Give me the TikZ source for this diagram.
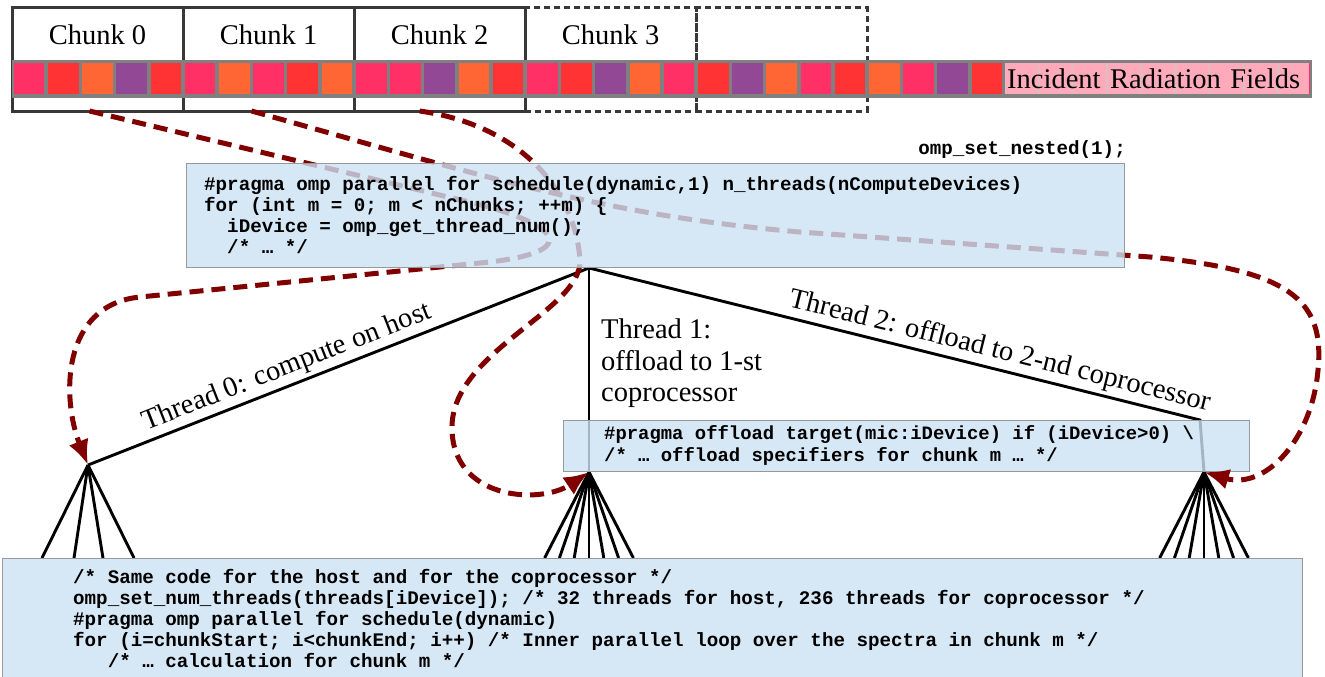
\documentclass[tikz,border=0pt]{standalone}
\usepackage{fontspec}
\usepackage{tikz}
\usepackage{xcolor}
\usetikzlibrary{arrows.meta,calc,positioning}
\setmainfont{Liberation Serif}
\newfontfamily\codefont{Liberation Mono}

\definecolor{cpink}{RGB}{255,48,102}
\definecolor{cred}{RGB}{255,51,51}
\definecolor{corange}{RGB}{255,102,51}
\definecolor{cpurple}{RGB}{146,72,148}
\definecolor{codebg}{RGB}{204,226,243}
\definecolor{flowred}{RGB}{128,0,0}
\definecolor{irfbg}{RGB}{255,192,203}

\begin{document}
\begin{tikzpicture}[x=1pt, y=-1pt,
    chunkbox/.style={draw=black!78, line width=3pt, minimum width=171.05pt, minimum height=103pt, inner sep=0pt, outer sep=0pt},
    freebox/.style={chunkbox, dash pattern=on 6pt off 4pt},
    lbl/.style={font=\fontsize{28.5}{31.5}\selectfont},
    cell/.style={fill=#1, minimum size=30.6pt, inner sep=0pt},
    codebox/.style={draw=black!40, line width=0.8pt, fill=codebg, fill opacity=0.8, anchor=north west, inner sep=0pt, outer sep=0pt},
    code/.style={font=\codefont\bfseries\fontsize{19.2}{21}\selectfont, align=left, inner sep=0pt, anchor=west},
    thread/.style={line width=2.9pt},
    flow/.style={draw=flowred, line width=5pt, dash pattern=on 14pt off 8pt, -{Latex[length=25pt,width=21pt]}}
  ]
  \useasboundingbox (0,0) rectangle (1325,677);

  % chunks of the field array
  \foreach \i in {0,1,2}
    \node[chunkbox] (c\i) at ({12+171.05*(\i+0.5)},59.5) {};
  \foreach \i in {3,4}
    \node[freebox] (c\i) at ({12+171.05*(\i+0.5)},59.5) {};
  \foreach \i in {0,...,3}
    \node[lbl] (t\i) at ([yshift=-26.5pt]c\i.north) {Chunk \i};

  \node[fill=black!50, minimum width=1300pt, minimum height=38pt, inner sep=0pt, anchor=north west] (strip) at (12,59.5) {};
  \foreach \col [count=\k from 0] in {cpink,cred,corange,cpurple,cred,cpink,corange,cpink,cred,corange,cpink,cpink,cpurple,corange,cred,cpink,cred,cpurple,corange,cpink,cred,cpurple,corange,cpink,cred,corange,cpink,cpurple,cred,cpink,cpink,cpink,cpink,cpink,cpink,cpink,cpink,cpink}
    \node[cell=\col] (sq\k) at ({12+34.21*(\k+0.5)},78.5) {};
  \node[lbl, fill=irfbg, fill opacity=0.85, text opacity=1, anchor=west, align=left, minimum height=30pt, text width=300pt, inner xsep=2pt, inner ysep=0pt] (irf) at (1005,78.5) {Incident Radiation Fields};

  % threads of the outer loop
  \coordinate (split) at (589,268);
  \coordinate (host) at (88,465);
  \coordinate (mic1) at (589,472);
  \coordinate (bend2) at (1200,420);
  \coordinate (mic2) at (1204,472);

  \draw[thread] (host) -- node[lbl, sloped, above, pos=0.41] (lbl0) {Thread 0: compute on host} (split);
  \draw[thread] (split) -- (mic1);
  \draw[thread] (split) -- node[lbl, sloped, above, pos=0.665] (lbl2) {Thread 2: offload to 2-nd coprocessor} (bend2) -- (mic2);
  \node[lbl, align=left, anchor=north west, inner sep=0pt] (lbl1) at (601,319) {Thread 1:\\offload to 1-st\\coprocessor};

  % inner threads
  \foreach \x [count=\k] in {42,74,103,134} {
    \coordinate (h\k) at (\x,558);
    \draw[thread] (host) -- (h\k);
  }
  \foreach \d [count=\k] in {-3,...,3} {
    \coordinate (m\k) at ({589+14.8*\d},558);
    \coordinate (n\k) at ({1204+14.8*\d},558);
    \draw[thread] (mic1) -- (m\k);
    \draw[thread] (mic2) -- (n\k);
  }

  \node[codebox, minimum width=686pt, minimum height=51pt] (offl) at (563,420) {};
  \node[code, font=\codefont\bfseries\fontsize{18.9}{22}\selectfont] (offltxt) at ([xshift=41pt]offl.west) {\#pragma offload target(mic:iDevice) if (iDevice>0) \textbackslash\\/* … offload specifiers for chunk m … */};

  % chunks handed to the devices
  \coordinate (f0) at ([xshift=-8pt]c0.south);
  \coordinate (f1) at ([xshift=-17pt]c1.south);
  \coordinate (f2) at ([xshift=-20pt]c2.south);
  \draw[flow] (f0) -- (448,197) .. controls (555,220) and (590,250) .. (490,262) -- (140,297) .. controls (60,305) and (62,400) .. (host);
  \draw[flow] (f1) .. controls (480,175) and (600,215) .. (800,232) -- (1150,257) .. controls (1290,270) and (1325,300) .. (1318,370) .. controls (1312,440) and (1265,490) .. (mic2);
  \draw[flow] (f2) .. controls (520,125) and (575,190) .. (580,260) .. controls (582,310) and (455,350) .. (452,425) .. controls (450,500) and (540,505) .. (mic1);

  \node[codebox, minimum width=938pt, minimum height=104pt] (outer) at (186,163) {};
  \node[code] (outertxt) at ([xshift=18pt]outer.west) {\#pragma omp parallel for schedule(dynamic,1) n\_threads(nComputeDevices)\\for (int m = 0; m < nChunks; ++m) \{\\\phantom{xx}iDevice = omp\_get\_thread\_num();\\\phantom{xx}/* … */};
  \node[code, anchor=east] (nest) at (1126,150) {omp\_set\_nested(1);};

  \node[codebox, minimum width=1300pt, minimum height=121pt] (inner) at (2,558) {};
  \node[code] (innertxt) at ([xshift=71pt]inner.west) {/* Same code for the host and for the coprocessor */\\omp\_set\_num\_threads(threads[iDevice]); /* 32 threads for host, 236 threads for coprocessor */\\\#pragma omp parallel for schedule(dynamic)\\for (i=chunkStart; i<chunkEnd; i++) /* Inner parallel loop over the spectra in chunk m */\\\phantom{xxx}/* … calculation for chunk m */};
\end{tikzpicture}
\end{document}
